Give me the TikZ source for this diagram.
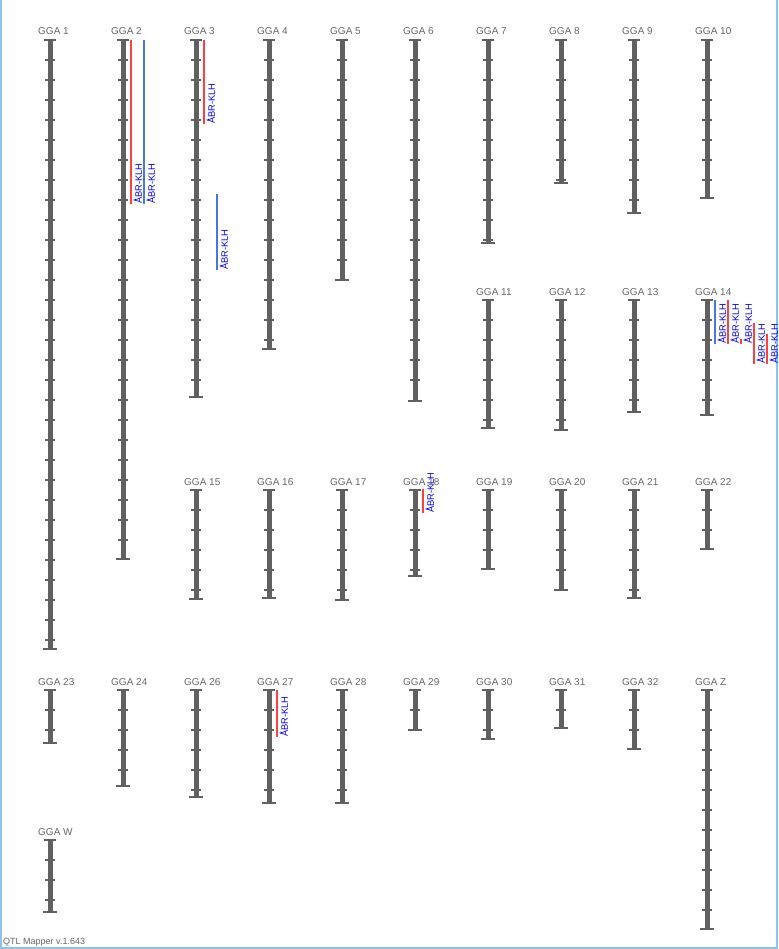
\documentclass[tikz,border=0pt]{standalone}
\usepackage{fontspec}
\setmainfont{Liberation Sans}
\usetikzlibrary{positioning}
\definecolor{bargray}{RGB}{96,96,96}
\definecolor{labelgray}{RGB}{102,102,102}
\definecolor{qtlred}{RGB}{255,64,64}
\definecolor{qtlblue}{RGB}{72,120,220}
\definecolor{textblue}{RGB}{0,0,255}
\definecolor{frameblue}{RGB}{140,195,235}

\begin{document}
\begin{tikzpicture}[x=1pt, y=-1pt,
    ggalabel/.style={anchor=base west, inner sep=0pt, text=labelgray,
      font=\fontsize{10}{12}\selectfont},
    chrbar/.style={bargray, line width=5pt},
    chrtick/.style={bargray, line width=1.3pt},
    chrcap/.style={bargray, line width=2pt},
    qtlline/.style={line width=2pt},
    qtllabel/.style={rotate=90, anchor=north west, inner sep=0pt, text=textblue,
      font=\fontsize{9.3}{10}\selectfont}]
  \useasboundingbox (0,0) rectangle (778,949);
  \draw[frameblue, line width=1.5pt] (0.75,0) -- (0.75,947.75) -- (776.75,947.75) -- (776.75,0);

  % chromosomes: id / x / top / bottom
  \foreach \id/\x/\t/\b in {1/50/40/649, 2/123/40/559, 3/196/40/397, 4/269/40/349,
      5/342/40/280, 6/415/40/401, 7/488/40/243, 8/561/40/183, 9/634/40/213, 10/707/40/198,
      11/488/300/428, 12/561/300/430, 13/634/300/412, 14/707/300/415,
      15/196/490/599, 16/269/490/598, 17/342/490/600, 18/415/490/576, 19/488/490/569,
      20/561/490/590, 21/634/490/598, 22/707/490/549,
      23/50/690/743, 24/123/690/786, 26/196/690/797, 27/269/690/803, 28/342/690/803,
      29/415/690/730, 30/488/690/739, 31/561/690/728, 32/634/690/749, Z/707/690/929,
      W/50/840/912} {
    \node[ggalabel] (gga\id) at (\x-12,\t-5) {GGA \id};
    \draw[chrbar] (\x,\t) -- (\x,\b);
    \pgfmathtruncatemacro\nt{(\b-\t-3)/20}
    \foreach \k in {1,...,\nt}
      \draw[chrtick] (\x-5,\t+20*\k) -- (\x+5,\t+20*\k);
    \draw[chrcap] (\x-6,\t) -- (\x+6,\t);
    \draw[chrcap] (\x-7,\b) -- (\x+7,\b);
  }

  % QTL intervals: x / top / bottom / colour
  \foreach \x/\t/\b/\c [count=\i] in {131/40/204/qtlred, 144/40/204/qtlblue,
      204/40/124/qtlred, 217/194/270/qtlblue, 423/489/513/qtlred, 277/690/737/qtlred,
      715/300/344/qtlblue, 728/300/344/qtlred, 741/339/344/qtlred,
      754/323/364/qtlred, 767/334/364/qtlred} {
    \draw[qtlline, \c] (\x,\t) -- (\x,\b);
    \node[qtllabel] (qtl\i) at (\x+2.5,\b) {ÅBR-KLH};
  }

  \node[anchor=base west, inner sep=0pt, text=labelgray, font=\fontsize{9}{10}\selectfont]
    (footer) at (3,944) {QTL Mapper v.1.643};
\end{tikzpicture}
\end{document}
